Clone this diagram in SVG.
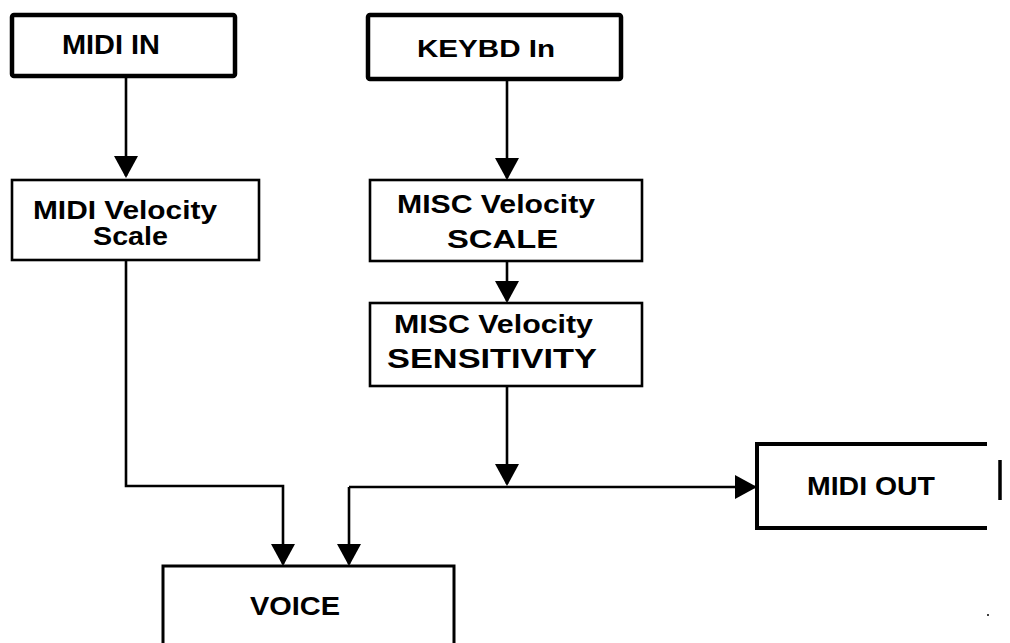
<svg xmlns="http://www.w3.org/2000/svg" width="1010" height="643" viewBox="0 0 1010 643">
<style>
.box{fill:#fff;stroke:#000;stroke-width:2.6}
.thick{stroke-width:4.5}
.conn{fill:none;stroke:#000;stroke-width:2.6}
text{font-family:"Liberation Sans",Arial,sans-serif;font-weight:bold;fill:#000}
</style>
<defs>
<marker id="arr" viewBox="0 0 22 24" refX="20" refY="12" markerWidth="22" markerHeight="24" markerUnits="userSpaceOnUse" orient="auto">
<path d="M0,0 L22,12 L0,24 z" fill="#000"/>
</marker>
</defs>
<rect width="1010" height="643" fill="#fff"/>
<g id="connectors">
<path class="conn" d="M126,77 V176" marker-end="url(#arr)"/>
<path class="conn" d="M507,79 V178" marker-end="url(#arr)"/>
<path class="conn" d="M507,261 V301" marker-end="url(#arr)"/>
<path class="conn" d="M507,386 V484" marker-end="url(#arr)"/>
<path class="conn" d="M126,260 V486 H283 V564" marker-end="url(#arr)"/>
<path class="conn" d="M349,487 V564" marker-end="url(#arr)"/>
<path class="conn" d="M349,487 H755" marker-end="url(#arr)"/>
</g>
<g id="midi-in">
<rect class="box thick" x="12" y="15" width="223" height="61" rx="2"/>
<text x="62" y="54" font-size="27" textLength="98" lengthAdjust="spacingAndGlyphs">MIDI IN</text>
</g>
<g id="keybd-in">
<rect class="box thick" x="368" y="15" width="253" height="64" rx="2"/>
<text x="417" y="57" font-size="24" textLength="138" lengthAdjust="spacingAndGlyphs">KEYBD In</text>
</g>
<g id="midi-velocity-scale">
<rect class="box" x="12" y="180" width="247" height="80"/>
<text x="33" y="219" font-size="25" textLength="184" lengthAdjust="spacingAndGlyphs">MIDI Velocity</text>
<text x="93" y="245" font-size="25" textLength="75" lengthAdjust="spacingAndGlyphs">Scale</text>
</g>
<g id="misc-velocity-scale">
<rect class="box" x="370" y="180" width="272" height="81"/>
<text x="397" y="213" font-size="25" textLength="198" lengthAdjust="spacingAndGlyphs">MISC Velocity</text>
<text x="447" y="248" font-size="25" textLength="111" lengthAdjust="spacingAndGlyphs">SCALE</text>
</g>
<g id="misc-velocity-sensitivity">
<rect class="box" x="370" y="303" width="272" height="83"/>
<text x="394" y="333" font-size="25" textLength="199" lengthAdjust="spacingAndGlyphs">MISC Velocity</text>
<text x="387" y="368" font-size="27" textLength="210" lengthAdjust="spacingAndGlyphs">SENSITIVITY</text>
</g>
<g id="midi-out">
<path d="M987,444 H757 V528 H987" fill="#fff" stroke="#000" stroke-width="4"/>
<path d="M1000,460 V500" stroke="#000" stroke-width="3.5"/>
<text x="807" y="495" font-size="25" textLength="128" lengthAdjust="spacingAndGlyphs">MIDI OUT</text>
</g>
<g id="voice">
<path d="M163,643 V566 H454 V643" fill="#fff" stroke="#000" stroke-width="3"/>
<text x="250" y="615" font-size="25" textLength="90" lengthAdjust="spacingAndGlyphs">VOICE</text>
</g>
<circle cx="988" cy="615" r="1" fill="#000"/>
</svg>
